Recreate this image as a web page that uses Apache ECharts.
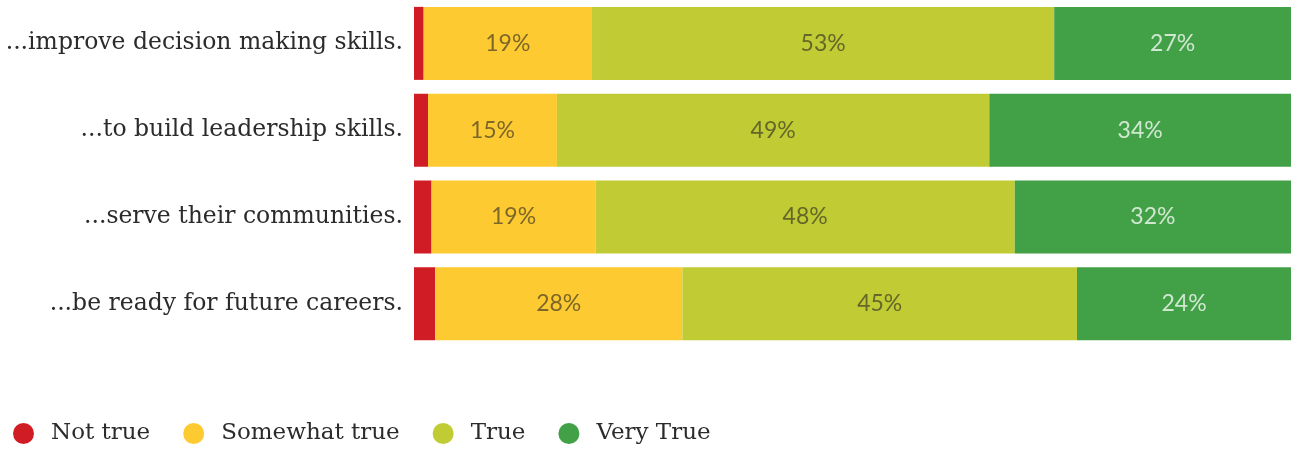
<!DOCTYPE html>
<html><head><meta charset="utf-8">
<script src="https://cdn.jsdelivr.net/npm/echarts@6/dist/echarts.min.js"></script>
<style>html,body{margin:0;padding:0;background:#fff}#c{width:1291px;height:449px}</style>
</head><body><div id="c"></div>
<script>
const categories = ['...improve decision making skills.', '...to build leadership skills.', '...serve their communities.', '...be ready for future careers.'];
const seriesNames = ['Not true', 'Somewhat true', 'True', 'Very True'];
const notTrue = [1.1, 1.6, 2.0, 2.4];
const somewhatTrue = [19.2, 14.7, 18.7, 28.2];
const trueVals = [52.7, 49.3, 47.8, 45.0];
const veryTrue = [27.0, 34.4, 31.5, 24.4];
const colors = ['#D01C24', '#FDCB31', '#C1CB33', '#42A047'];
const labelColors = [null, 'rgba(45,40,35,0.62)', 'rgba(45,40,35,0.62)', 'rgba(255,255,255,0.75)'];
const data = [notTrue, somewhatTrue, trueVals, veryTrue];
const slab = '"DejaVu Serif", serif';
const chart = echarts.init(document.getElementById('c'));
chart.setOption({
  animation: false,
  grid: { left: 414, right: 0, top: -1, height: 348 },
  xAxis: { type: 'value', min: 0, max: 100, show: false },
  yAxis: {
    type: 'category', data: categories, inverse: true,
    axisLine: { show: false }, axisTick: { show: false },
    axisLabel: { margin: 11, color: '#2b2b2b', fontFamily: slab, fontSize: 23.5 }
  },
  legend: {
    left: 13, top: 422, padding: 0, itemGap: 33, itemWidth: 21, itemHeight: 21, icon: 'circle',
    textStyle: { color: '#2b2b2b', fontFamily: slab, fontSize: 23, padding: [0, 0, 0, 12] },
    data: seriesNames
  },
  series: seriesNames.map((n, i) => ({
    name: n, type: 'bar', stack: 'total', data: data[i], barWidth: 73,
    itemStyle: { color: colors[i] },
    label: {
      show: i > 0, position: 'inside', color: labelColors[i] || '#000',
      fontFamily: 'Lato', fontWeight: 400, fontSize: 23,
      formatter: p => Math.round(p.value) + '%'
    }
  }))
});
</script></body></html>
